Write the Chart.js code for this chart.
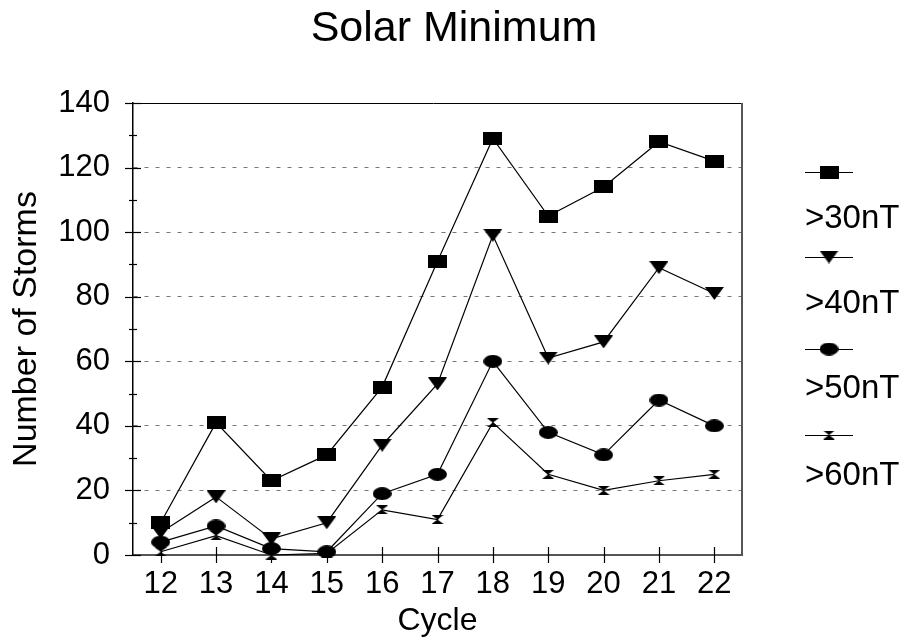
<!DOCTYPE html>
<html>
<head>
<meta charset="utf-8">
<title>Solar Minimum</title>
<style>
  html, body { margin: 0; padding: 0; background: #fff; }
  #c { display: block; }
</style>
<script src="https://cdn.jsdelivr.net/npm/chart.js@4/dist/chart.umd.min.js"></script>
</head>
<body>
<canvas id="c" width="908" height="644"></canvas>
<script>
// Storm counts per solar cycle, solar-minimum phase
const cycles = ['12', '13', '14', '15', '16', '17', '18', '19', '20', '21', '22'];
const storms30 = [10, 41, 23, 31, 52, 91, 129, 105, 114, 128, 122];
const storms40 = [7, 18, 5, 10, 34, 53, 99, 61, 66, 89, 81];
const storms50 = [4, 9, 2, 1, 19, 25, 60, 38, 31, 48, 40];
const storms60 = [1, 6, 0, 0.5, 14, 11, 41, 25, 20, 23, 25];
const seriesLabels = ['>30nT', '>40nT', '>50nT', '>60nT'];
const yMin = 0, yMax = 140, yMajorStep = 20, yMinorStep = 10;

const FONT = "'Liberation Sans', Arial, Helvetica, sans-serif";
Chart.defaults.font.family = FONT;
Chart.defaults.color = '#000';

// Marker glyphs drawn into small canvases and used as point styles
function marker(w, h, paint) {
  const c = document.createElement('canvas');
  c.width = w; c.height = h;
  const g = c.getContext('2d');
  g.fillStyle = '#000';
  paint(g, w, h);
  return c;
}
const squareMark = marker(19, 13, (g, w, h) => g.fillRect(0, 0, w, h));
const triangleMark = marker(19, 13, (g, w, h) => {
  g.beginPath(); g.moveTo(0, 0); g.lineTo(w, 0); g.lineTo(w / 2, h); g.closePath(); g.fill();
});
const ellipseMark = marker(19, 13, (g, w, h) => {
  g.beginPath(); g.ellipse(w / 2, h / 2, w / 2, h / 2, 0, 0, Math.PI * 2); g.fill();
});
const hourglassMark = marker(12, 9, (g, w, h) => {
  g.beginPath();
  g.moveTo(0, 0); g.lineTo(w, 0); g.lineTo(w / 2, h / 2);
  g.lineTo(w, h); g.lineTo(0, h); g.lineTo(w / 2, h / 2);
  g.closePath(); g.fill();
});

function series(label, data, style) {
  return {
    label, data,
    borderColor: '#000', borderWidth: 1.2,
    pointStyle: style, pointRadius: 6,
    fill: false, tension: 0, clip: false
  };
}

// Axis tick marks, top/right frame
const framePlugin = {
  id: 'frame',
  beforeDatasetsDraw(chart) {
    const { ctx, chartArea: a, scales: { x, y } } = chart;
    ctx.save();
    ctx.strokeStyle = '#000';
    ctx.lineWidth = 1;
    ctx.beginPath();
    ctx.moveTo(a.left - 8, a.top + 0.5);
    ctx.lineTo(a.right, a.top + 0.5);
    ctx.stroke();
    ctx.strokeStyle = '#555';
    ctx.lineWidth = 2;
    ctx.beginPath();
    ctx.moveTo(a.right, a.top);
    ctx.lineTo(a.right, a.bottom);
    ctx.stroke();
    ctx.strokeStyle = '#000';
    ctx.lineWidth = 1.2;
    for (let v = yMin; v <= yMax; v += yMinorStep) {
      const py = Math.round(y.getPixelForValue(v)) + 0.5;
      const len = (v % yMajorStep === 0) ? 8 : 4;
      ctx.beginPath();
      ctx.moveTo(a.left - len, py);
      ctx.lineTo(a.left + len, py);
      ctx.stroke();
    }
    for (let i = 0; i < cycles.length; i++) {
      const px = Math.round(x.getPixelForValue(i)) + 0.5;
      ctx.beginPath();
      ctx.moveTo(px, a.bottom - 8);
      ctx.lineTo(px, a.bottom + 8);
      ctx.stroke();
    }
    ctx.restore();
  }
};

// Legend: symbol row with the label beneath it
const legendPlugin = {
  id: 'stackedLegend',
  afterDraw(chart) {
    const { ctx } = chart;
    const symbolY = [172, 257, 349, 435];
    const textY = [219, 304, 389, 476];
    ctx.save();
    chart.data.datasets.forEach((ds, i) => {
      ctx.strokeStyle = '#000';
      ctx.lineWidth = 1.2;
      ctx.beginPath();
      ctx.moveTo(805, symbolY[i] + 0.5);
      ctx.lineTo(853, symbolY[i] + 0.5);
      ctx.stroke();
      const m = ds.pointStyle;
      ctx.drawImage(m, 829 - m.width / 2, symbolY[i] - m.height / 2);
      ctx.fillStyle = '#000';
      ctx.font = '33px ' + FONT;
      ctx.textAlign = 'left';
      ctx.textBaseline = 'middle';
      ctx.fillText(ds.label, 805, textY[i]);
    });
    ctx.restore();
  }
};

new Chart(document.getElementById('c'), {
  type: 'line',
  data: {
    labels: cycles,
    datasets: [
      series(seriesLabels[0], storms30, squareMark),
      series(seriesLabels[1], storms40, triangleMark),
      series(seriesLabels[2], storms50, ellipseMark),
      series(seriesLabels[3], storms60, hourglassMark)
    ]
  },
  options: {
    responsive: false,
    animation: false,
    events: [],
    layout: { padding: 0 },
    plugins: {
      legend: { display: false },
      tooltip: { enabled: false },
      title: {
        display: true,
        text: 'Solar Minimum',
        color: '#000',
        font: { family: FONT, size: 43, weight: 'normal', lineHeight: 1.2 },
        padding: { top: 3, bottom: 48.4 }
      }
    },
    scales: {
      x: {
        type: 'category',
        offset: true,
        grid: { display: false, drawTicks: false },
        border: { display: true, color: '#555', width: 2 },
        ticks: { color: '#000', font: { size: 31 }, padding: 11, maxRotation: 0, autoSkip: false },
        title: {
          display: true, text: 'Cycle', color: '#000',
          font: { size: 32, lineHeight: 1.2 }, padding: { top: 0, bottom: 4 }
        },
        afterFit(s) { s.height = 89; }
      },
      y: {
        type: 'linear',
        min: yMin, max: yMax,
        grid: {
          drawTicks: false,
          lineWidth: 1,
          color: (c) => (c.tick && c.tick.value > yMin && c.tick.value < yMax) ? '#777' : 'rgba(0,0,0,0)'
        },
        border: { display: true, color: '#000', width: 1.5, dash: [4, 7] },
        ticks: { stepSize: yMajorStep, color: '#000', font: { size: 31 }, padding: 23 },
        title: {
          display: true, text: 'Number of Storms', color: '#000',
          font: { size: 34, lineHeight: 1.2 }, padding: { top: 6, bottom: 0 }
        },
        afterFit(s) { s.width = 133; }
      },
      legendSpace: {
        type: 'linear',
        position: 'right',
        min: yMin, max: yMax,
        grid: { display: false, drawTicks: false },
        border: { display: false },
        ticks: { display: false },
        afterFit(s) { s.width = 166; }
      }
    }
  },
  plugins: [framePlugin, legendPlugin]
});
</script>
</body>
</html>
